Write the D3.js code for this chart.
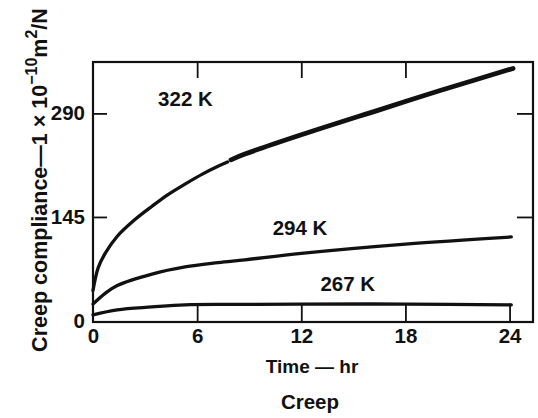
<!DOCTYPE html>
<html><head><meta charset="utf-8">
<script src="https://cdn.jsdelivr.net/npm/d3@7"></script>
<style>body{margin:0;background:#fff}svg{display:block}text{font-family:"Liberation Sans",Arial,sans-serif;fill:#111}</style>
</head><body><svg id="c" width="538" height="418"></svg>
<script>
// Data (time in hr, creep compliance in 1e-10 m^2/N)
const t322a = [0, 0.3, 0.7, 1.4, 2.4, 3.4, 4.3, 5.3, 6.3, 7.2, 7.75];
const v322a = [42, 74, 94, 118, 141, 160, 176, 191, 205, 216, 222];
const t322b = [7.95, 8.75, 12, 16.5, 20, 24.2];
const v322b = [225, 233, 260, 295, 322, 353];
const t294 = [0, 0.7, 1.4, 3.4, 5.3, 7.2, 8.75, 12, 18, 24.1];
const v294 = [23, 38, 49, 65, 75, 81, 85, 94, 107, 117];
const t267 = [0, 1.4, 3.4, 5.3, 8.5, 12, 18, 24.1];
const v267 = [8, 15, 19, 22, 22.5, 23, 23, 22];
const xTicks = [0, 6, 12, 18, 24];
const yTicks = [0, 145, 290];
const seriesLabels = ["322 K", "294 K", "267 K"];

const svg = d3.select("#c");
const L = 93, R = 533, T = 62, B = 322;
const x = d3.scaleLinear().domain([0, 25.35]).range([L, R]);
const y = d3.scaleLinear().domain([0, 362]).range([320.5, T]);

// frame
svg.append("rect").attr("x", L).attr("y", T).attr("width", R - L).attr("height", B - T)
  .attr("fill", "none").attr("stroke", "#111").attr("stroke-width", 2.2);

// bottom axis (ticks inward)
const gb = svg.append("g").attr("transform", `translate(0,${B})`)
  .call(d3.axisBottom(x).tickValues(xTicks).tickSizeInner(-18).tickSizeOuter(0).tickPadding(6));
gb.select(".domain").remove();
gb.selectAll("line").attr("stroke", "#111").attr("stroke-width", 1.8);
gb.selectAll("line").filter(d => d === 0).remove();
gb.selectAll("text").attr("font-size", 20.5).attr("font-weight", "bold").attr("fill", "#111");

// top ticks
const gt = svg.append("g").attr("transform", `translate(0,${T})`)
  .call(d3.axisTop(x).tickValues([6, 12, 18]).tickSizeInner(-16).tickSizeOuter(0).tickFormat(""));
gt.select(".domain").remove();
gt.selectAll("line").attr("stroke", "#111").attr("stroke-width", 1.8);

// left axis
const gl = svg.append("g").attr("transform", `translate(${L},0)`)
  .call(d3.axisLeft(y).tickValues(yTicks).tickSizeInner(-14).tickSizeOuter(0).tickPadding(8));
gl.select(".domain").remove();
gl.selectAll("line").attr("stroke", "#111").attr("stroke-width", 1.8);
gl.selectAll("line").filter(d => d === 0).remove();
gl.selectAll("text").attr("font-size", 20.5).attr("font-weight", "bold").attr("fill", "#111");

// right ticks
const gr = svg.append("g").attr("transform", `translate(${R},0)`)
  .call(d3.axisRight(y).tickValues([145, 290]).tickSizeInner(-16).tickSizeOuter(0).tickFormat(""));
gr.select(".domain").remove();
gr.selectAll("line").attr("stroke", "#111").attr("stroke-width", 1.8);

// curves
const line = d3.line().x(d => x(d[0])).y(d => y(d[1])).curve(d3.curveCatmullRom.alpha(0.5));
const zip = (a, b) => a.map((v, i) => [v, b[i]]);
const curves = [
  [zip(t322a, v322a), 3.3],
  [zip(t322b, v322b), 4.8],
  [zip(t294, v294), 3.3],
  [zip(t267, v267), 3.3]
];
curves.forEach(([d, w]) => {
  svg.append("path").datum(d).attr("d", line).attr("fill", "none")
    .attr("stroke", "#111").attr("stroke-width", w).attr("stroke-linecap", "round");
});

// series labels
const labPos = [[3.75, 300], [10.35, 120], [13.1, 42]];
seriesLabels.forEach((s, i) => {
  svg.append("text").attr("x", x(labPos[i][0])).attr("y", y(labPos[i][1]))
    .attr("font-size", 20.5).attr("font-weight", "bold").text(s);
});

// axis titles
svg.append("text").attr("x", (L + R) / 2 - 1).attr("y", 373).attr("text-anchor", "middle")
  .attr("font-size", 19).attr("font-weight", "bold").text("Time — hr");
svg.append("text").attr("x", (L + R) / 2 - 3).attr("y", 409).attr("text-anchor", "middle")
  .attr("font-size", 20.5).attr("font-weight", "bold").text("Creep");

const yt = svg.append("text").attr("transform", "translate(47,180) rotate(-90)")
  .attr("text-anchor", "middle").attr("font-size", 21.5).attr("font-weight", "bold");
yt.append("tspan").text("Creep compliance—1 × 10");
yt.append("tspan").attr("dy", -10).attr("font-size", 16).text("−10");
yt.append("tspan").attr("dy", 10).text("m");
yt.append("tspan").attr("dy", -10).attr("font-size", 16).text("2");
yt.append("tspan").attr("dy", 10).text("/N");
</script></body></html>
